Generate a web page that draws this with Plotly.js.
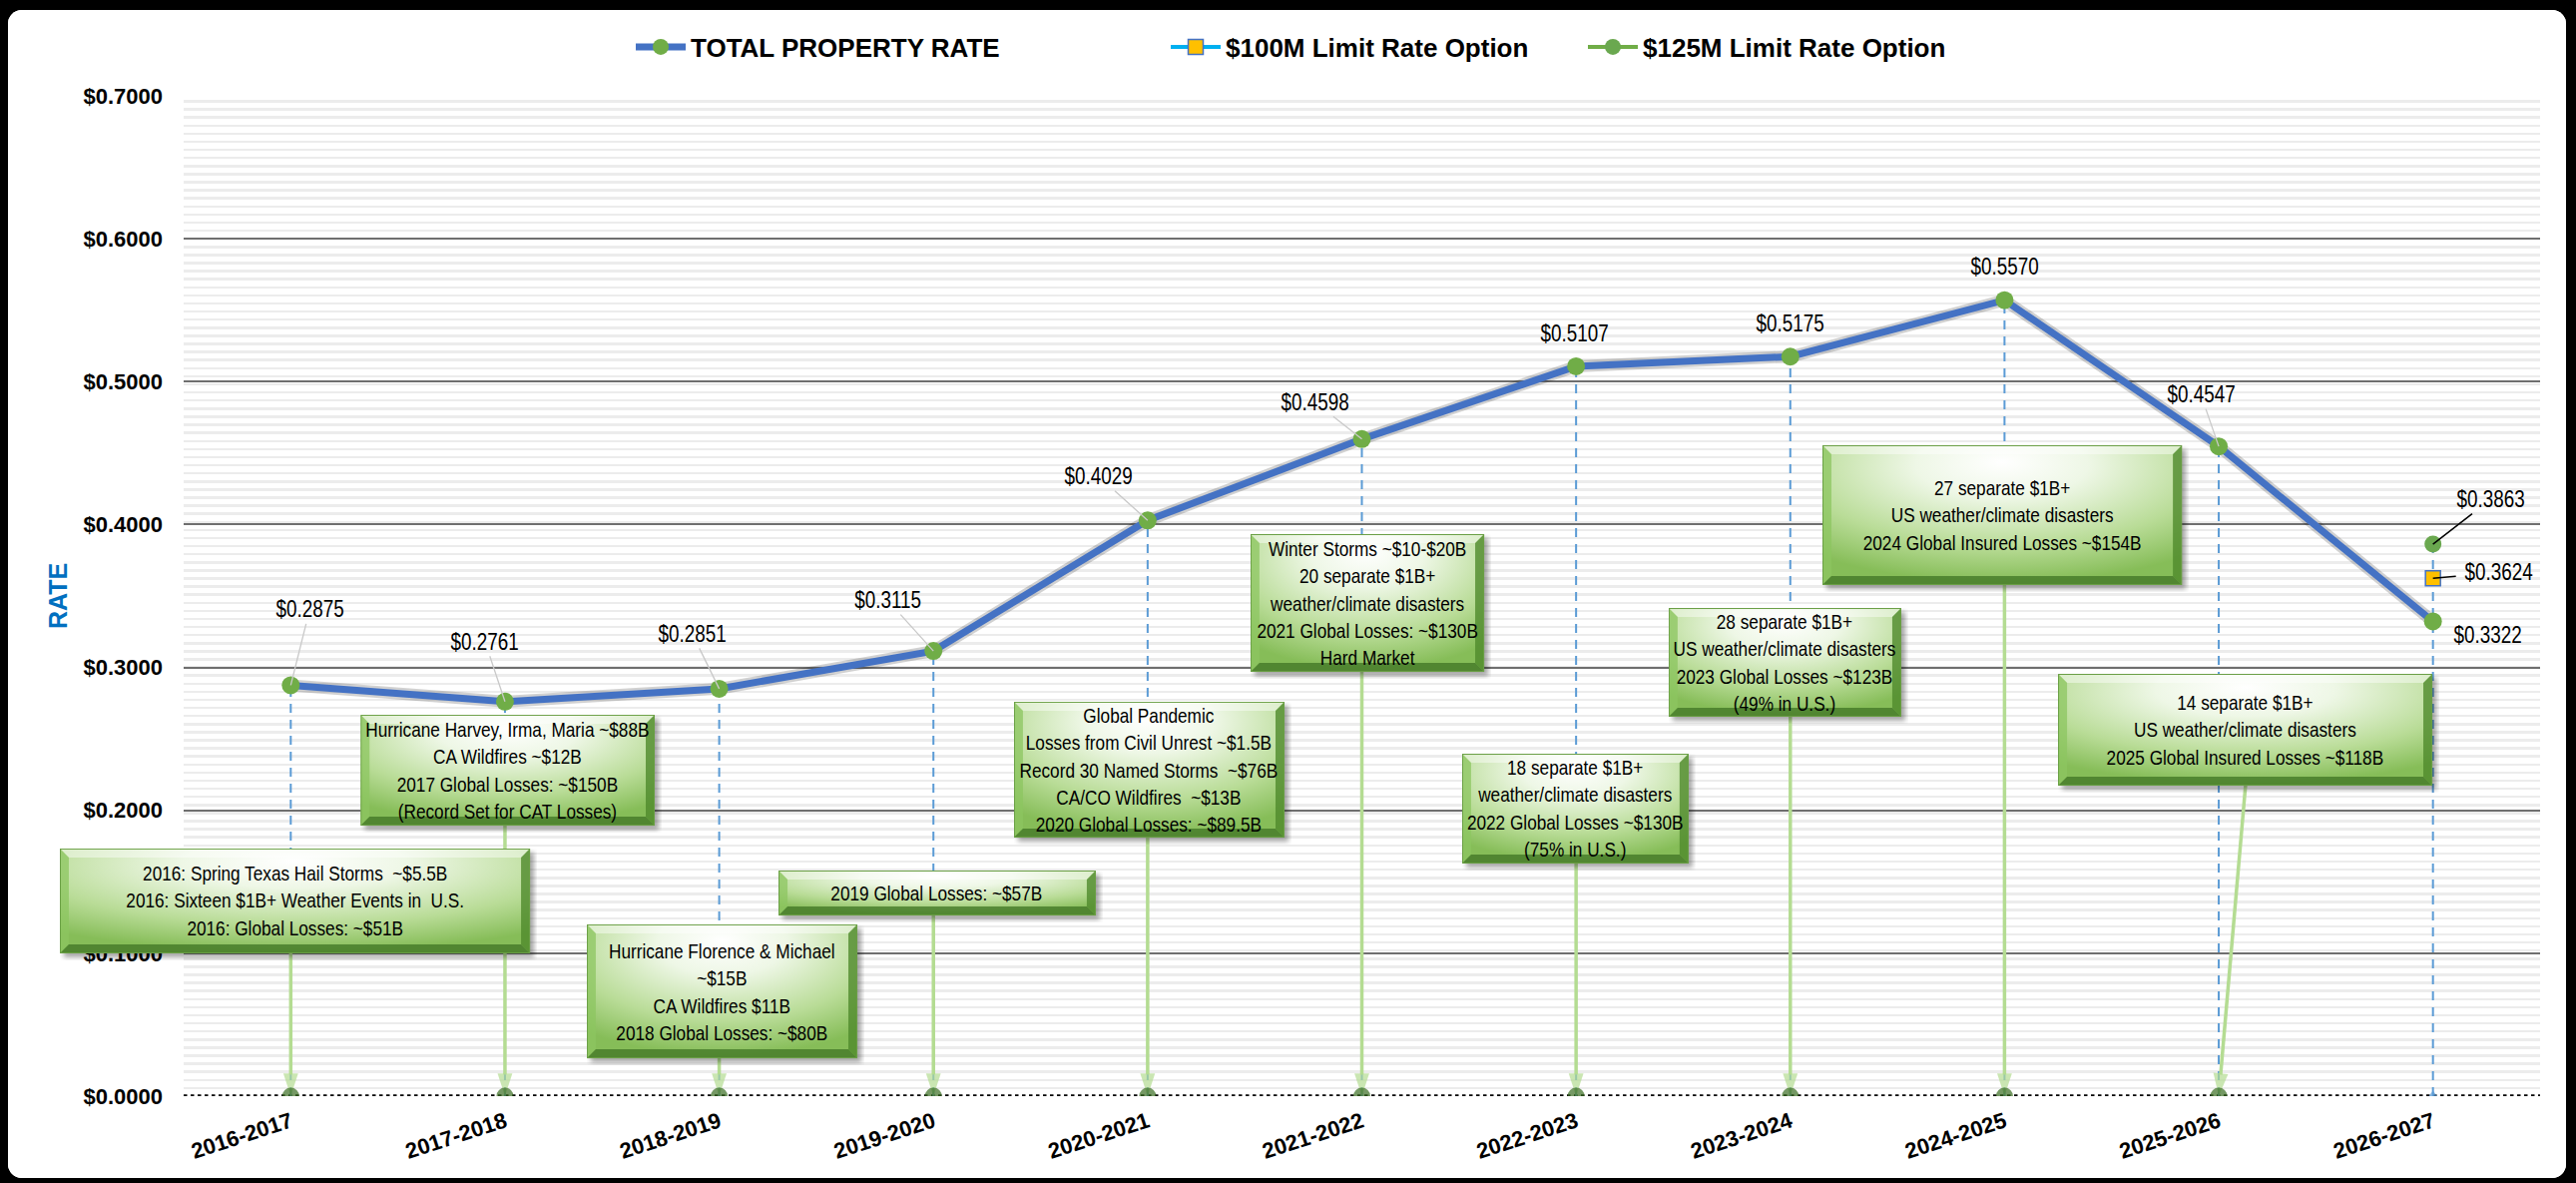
<!DOCTYPE html>
<html>
<head>
<meta charset="utf-8">
<script src="https://cdn.plot.ly/plotly-3.0.1.min.js"></script>
<style>
  html, body { margin: 0; padding: 0; background: #000; width: 2581px; height: 1185px; overflow: hidden; }
  #chart { position: absolute; left: 8px; top: 10px; width: 2563px; height: 1170px; background: #fff; border-radius: 14px; overflow: hidden; }
  /* condensed look for callout and data-label text (no narrow face is installed) */
  #chart .annotation-text { transform-box: fill-box; transform-origin: center; transform: scaleX(0.82); }
</style>
</head>
<body>
<div id="chart"></div>
<script>
// ---------------- DATA ----------------
const categories = ['2016-2017','2017-2018','2018-2019','2019-2020','2020-2021','2021-2022',
                    '2022-2023','2023-2024','2024-2025','2025-2026','2026-2027'];
const totalPropertyRate = [0.2875, 0.2761, 0.2851, 0.3115, 0.4029, 0.4598, 0.5107, 0.5175, 0.5570, 0.4547, 0.3322];
const limit100Rate = [null, null, null, null, null, null, null, null, null, null, 0.3624];
const limit125Rate = [null, null, null, null, null, null, null, null, null, null, 0.3863];
const yTickValues = [0, 0.1, 0.2, 0.3, 0.4, 0.5, 0.6, 0.7];
const yTickLabels = ['$0.0000', '$0.1000', '$0.2000', '$0.3000', '$0.4000', '$0.5000', '$0.6000', '$0.7000'];
const seriesNames = ['TOTAL PROPERTY RATE', '$100M Limit Rate Option', '$125M Limit Rate Option'];
const eventNotes = [
  ['2016: Spring Texas Hail Storms  ~$5.5B', '2016: Sixteen $1B+ Weather Events in  U.S.', '2016: Global Losses: ~$51B'],
  ['Hurricane Harvey, Irma, Maria ~$88B', 'CA Wildfires ~$12B', '2017 Global Losses: ~$150B', '(Record Set for CAT Losses)'],
  ['Hurricane Florence & Michael', '~$15B', 'CA Wildfires $11B', '2018 Global Losses: ~$80B'],
  ['2019 Global Losses: ~$57B'],
  ['Global Pandemic', 'Losses from Civil Unrest ~$1.5B', 'Record 30 Named Storms  ~$76B', 'CA/CO Wildfires  ~$13B', '2020 Global Losses: ~$89.5B'],
  ['Winter Storms ~$10-$20B', '20 separate $1B+', 'weather/climate disasters', '2021 Global Losses: ~$130B', 'Hard Market'],
  ['18 separate $1B+', 'weather/climate disasters', '2022 Global Losses ~$130B', '(75% in U.S.)'],
  ['28 separate $1B+', 'US weather/climate disasters', '2023 Global Losses ~$123B', '(49% in U.S.)'],
  ['27 separate $1B+', 'US weather/climate disasters', '2024 Global Insured Losses ~$154B'],
  ['14 separate $1B+', 'US weather/climate disasters', '2025 Global Insured Losses ~$118B']
];

// ---------------- LAYOUT CONFIG (positions / styles) ----------------
const W = 2563, H = 1170;
const M = { l: 176, r: 26, t: 86, b: 82 };
const plotW = W - M.l - M.r, plotH = H - M.t - M.b;
const xMin = -0.5, xMax = categories.length - 0.5;
const yMin = 0, yMax = 0.7;
const pxPerX = plotW / (xMax - xMin), pxPerY = plotH / (yMax - yMin);
const toPaperX = v => (v - xMin) / (xMax - xMin);
const toPaperY = v => (v - yMin) / (yMax - yMin);

// callout boxes (axis units) and where their arrow leaves the box
const noteBoxes = [
  { x0: -1.078, x1: 1.117, y0: 0.0999, y1: 0.1733, tailX: 0 },
  { x0: 0.326,  x1: 1.699, y0: 0.1893, y1: 0.2669, tailX: 1 },
  { x0: 1.382,  x1: 2.645, y0: 0.0265, y1: 0.1202, tailX: 2 },
  { x0: 2.277,  x1: 3.758, y0: 0.1264, y1: 0.1579, tailX: 3 },
  { x0: 3.376,  x1: 4.639, y0: 0.1810, y1: 0.2760, tailX: 4 },
  { x0: 4.480,  x1: 5.571, y0: 0.2969, y1: 0.3933, tailX: 5 },
  { x0: 5.468,  x1: 6.525, y0: 0.1628, y1: 0.2396, tailX: 6 },
  { x0: 6.432,  x1: 7.518, y0: 0.2655, y1: 0.3416, tailX: 7 },
  { x0: 7.150,  x1: 8.828, y0: 0.3577, y1: 0.4555, tailX: 8 },
  { x0: 8.250,  x1: 9.997, y0: 0.2173, y1: 0.2955, tailX: 9.125 }
];
// data-label offsets in px (text centre relative to point) and leader flag
const labelOffsets = [[19,-76],[-20,-60],[-27,-55],[-46,-51],[-49,-44],[-47,-37],[-2,-33],[0,-33],[0,-34],[-18,-52],[55,14]];
const labelLeader  = [1,1,1,1,1,1,0,0,0,1,0];

const ARIAL = '"Liberation Sans", Arial, sans-serif';

const xIdx = categories.map((c, i) => i);

// ---------------- TRACES ----------------
const traces = [];

// blue dashed drop lines from the highest value at each category down to zero
const dropX = [], dropY = [];
xIdx.forEach(i => {
  const top = Math.max(totalPropertyRate[i] || 0, limit100Rate[i] || 0, limit125Rate[i] || 0);
  dropX.push(i, i, null); dropY.push(0, top, null);
});
traces.push({ x: dropX, y: dropY, mode: 'lines', showlegend: false, hoverinfo: 'skip',
  line: { color: '#5B9BD5', width: 2, dash: '9px,7px' } });

// light-green arrows from each callout box to its category anchor
const arrX = [], arrY = [], arrS = [];
noteBoxes.forEach((b, i) => {
  arrX.push(b.tailX, xIdx[i], null); arrY.push(b.y0, 0, null); arrS.push(0, 24, 0);
});
traces.push({ x: arrX, y: arrY, mode: 'lines+markers', showlegend: false, hoverinfo: 'skip',
  line: { color: '#B4DC92', width: 3.5 },
  marker: { symbol: 'arrow', size: arrS, color: '#B4DC92', angleref: 'previous', line: { width: 0 } } });

// anchor markers on the zero line
const anchorY = xIdx.map(() => 0);
traces.push({ x: xIdx, y: anchorY, mode: 'markers', showlegend: false, hoverinfo: 'skip',
  marker: { symbol: xIdx.map(i => i < noteBoxes.length ? 'circle' : 'triangle-up'),
            size: xIdx.map(i => i < noteBoxes.length ? 17 : 11),
            color: xIdx.map(i => i < noteBoxes.length ? '#3B6E22' : '#5B9BD5'),
            line: { width: 0 } } });

// soft shadow under main line
traces.push({ x: xIdx, y: totalPropertyRate, mode: 'lines', showlegend: false, hoverinfo: 'skip',
  line: { color: 'rgba(0,0,0,0.18)', width: 12 } });

// main series
traces.push({ x: xIdx, y: totalPropertyRate, name: seriesNames[0], mode: 'lines+markers', legend: 'legend',
  line: { color: '#4472C4', width: 7 },
  marker: { symbol: 'circle', size: 18, color: '#70AD47', line: { width: 0 } } });
traces.push({ x: xIdx, y: limit100Rate, name: seriesNames[1], mode: 'lines+markers', legend: 'legend2',
  line: { color: '#00B0F0', width: 4 },
  marker: { symbol: 'square', size: 15, color: '#FFC000', line: { color: '#4472C4', width: 1.5 } } });
traces.push({ x: xIdx, y: limit125Rate, name: seriesNames[2], mode: 'lines+markers', legend: 'legend3',
  line: { color: '#70AD47', width: 4 },
  marker: { symbol: 'circle', size: 17, color: '#6AA84F', line: { width: 0 } } });

// ---------------- CALLOUT BOX IMAGES ----------------
function boxSVG(w, h) {
  const s = 7, b = 9;
  const svg =
`<svg xmlns='http://www.w3.org/2000/svg' width='${w + s}' height='${h + s}' viewBox='0 0 ${w + s} ${h + s}'>
<defs>
<radialGradient id='g' cx='50%' cy='18%' r='80%' fx='50%' fy='12%'>
<stop offset='0' stop-color='#ffffff'/>
<stop offset='0.3' stop-color='#eef7e6'/>
<stop offset='0.7' stop-color='#b9dc97'/>
<stop offset='1' stop-color='#86bd58'/>
</radialGradient>
<filter id='f' x='-10%' y='-10%' width='130%' height='130%'><feGaussianBlur stdDeviation='2.5'/></filter>
</defs>
<rect x='4' y='4' width='${w}' height='${h}' fill='rgba(0,0,0,0.35)' filter='url(#f)'/>
<rect x='0' y='0' width='${w}' height='${h}' fill='url(#g)'/>
<polygon points='0,0 ${w},0 ${w - b},${b} ${b},${b}' fill='#ffffff' fill-opacity='0.45'/>
<polygon points='0,0 ${b},${b} ${b},${h - b} 0,${h}' fill='#8cc560' fill-opacity='0.75'/>
<polygon points='${w},0 ${w},${h} ${w - b},${h - b} ${w - b},${b}' fill='#4f8a2c' fill-opacity='0.8'/>
<polygon points='0,${h} ${w},${h} ${w - b},${h - b} ${b},${h - b}' fill='#3f7424' fill-opacity='0.75'/>
<rect x='0.5' y='0.5' width='${w - 1}' height='${h - 1}' fill='none' stroke='#6a9f45' stroke-width='1'/>
</svg>`;
  return 'data:image/svg+xml;charset=utf-8,' + encodeURIComponent(svg);
}

const images = [];
const annotations = [];
noteBoxes.forEach((b, i) => {
  const wPx = (b.x1 - b.x0) * pxPerX, hPx = (b.y1 - b.y0) * pxPerY;
  images.push({
    source: boxSVG(Math.round(wPx), Math.round(hPx)),
    xref: 'paper', yref: 'paper',
    x: toPaperX(b.x0), y: toPaperY(b.y1),
    sizex: (wPx + 7) / plotW, sizey: (hPx + 7) / plotH,
    xanchor: 'left', yanchor: 'top', sizing: 'stretch', layer: 'above'
  });
  annotations.push({
    xref: 'paper', yref: 'paper',
    x: toPaperX((b.x0 + b.x1) / 2), y: toPaperY((b.y0 + b.y1) / 2),
    xanchor: 'center', yanchor: 'middle', showarrow: false, align: 'center',
    text: eventNotes[i].join('<br>'),
    font: { family: ARIAL, size: 21, color: '#000' }
  });
});

// data labels
totalPropertyRate.forEach((v, i) => {
  const [dx, dy] = labelOffsets[i];
  annotations.push({
    x: xIdx[i], y: v, xref: 'x', yref: 'y', text: '$' + v.toFixed(4),
    showarrow: !!labelLeader[i], ax: dx, ay: dy, arrowhead: 0, arrowwidth: 1.3, arrowcolor: '#c9c9c9', standoff: 0,
    xshift: labelLeader[i] ? 0 : dx, yshift: labelLeader[i] ? 0 : -dy,
    font: { family: ARIAL, size: 23, color: '#000' }
  });
});
[[limit125Rate, 58, -45], [limit100Rate, 66, -6]].forEach(([arr, dx, dy]) => {
  arr.forEach((v, i) => {
    if (v == null) return;
    annotations.push({
      x: xIdx[i], y: v, xref: 'x', yref: 'y', text: '$' + v.toFixed(4),
      showarrow: true, ax: dx, ay: dy, arrowhead: 0, arrowwidth: 1.5, arrowcolor: '#000', standoff: 0,
      font: { family: ARIAL, size: 23, color: '#000' }
    });
  });
});

// ---------------- LAYOUT ----------------
const legendBase = {
  orientation: 'h', xanchor: 'left', yanchor: 'middle', y: 1 + 49 / plotH,
  bgcolor: 'rgba(0,0,0,0)', borderwidth: 0, itemwidth: 50,
  font: { family: ARIAL, size: 26, color: '#000', weight: 'bold' }
};
const layout = {
  width: W, height: H,
  margin: M,
  paper_bgcolor: '#ffffff', plot_bgcolor: '#ffffff',
  showlegend: true,
  legend:  Object.assign({}, legendBase, { x: (624 - M.l) / plotW }),
  legend2: Object.assign({}, legendBase, { x: (1160 - M.l) / plotW }),
  legend3: Object.assign({}, legendBase, { x: (1578 - M.l) / plotW }),
  xaxis: {
    type: 'linear', range: [xMin, xMax], tickvals: xIdx, ticktext: categories,
    tickangle: -18, showgrid: false, zeroline: false, showline: false, ticks: '',
    ticklabelstandoff: 8,
    tickfont: { family: ARIAL, size: 22, color: '#000', weight: 'bold' }
  },
  yaxis: {
    range: [yMin, yMax], tickvals: yTickValues, ticktext: yTickLabels,
    showgrid: true, gridcolor: '#6f6f6f', gridwidth: 2,
    zeroline: false,
    showline: false, ticks: '', ticklabelstandoff: 20,
    tickfont: { family: ARIAL, size: 22, color: '#000', weight: 'bold' },
    minor: { dtick: 0.00566, showgrid: true, gridcolor: '#ececec', gridwidth: 2.5 },
    title: { text: 'RATE', standoff: 8, font: { family: ARIAL, size: 25, color: '#0070C0', weight: 'bold' } }
  },
  shapes: [
    { type: 'line', xref: 'paper', yref: 'y', x0: 0, x1: 1, y0: 0, y1: 0, layer: 'below',
      line: { color: '#000', width: 3.5, dash: 'dot' } }
  ],
  images: images,
  annotations: annotations
};

function liftYLabels(gd) {
  // y tick labels sit on top of the callout boxes, as in the original
  const svgs = gd.querySelectorAll('.main-svg');
  const top = svgs.length > 1 ? svgs[1] : svgs[0];
  gd.querySelectorAll('.yaxislayer-above').forEach(g => { if (top && g.parentNode !== top) top.insertBefore(g, top.firstChild); });
}

Plotly.newPlot('chart', traces, layout, { displayModeBar: false, responsive: false, staticPlot: true })
  .then(gd => { liftYLabels(gd); setTimeout(() => liftYLabels(gd), 50); });
</script>
</body>
</html>
